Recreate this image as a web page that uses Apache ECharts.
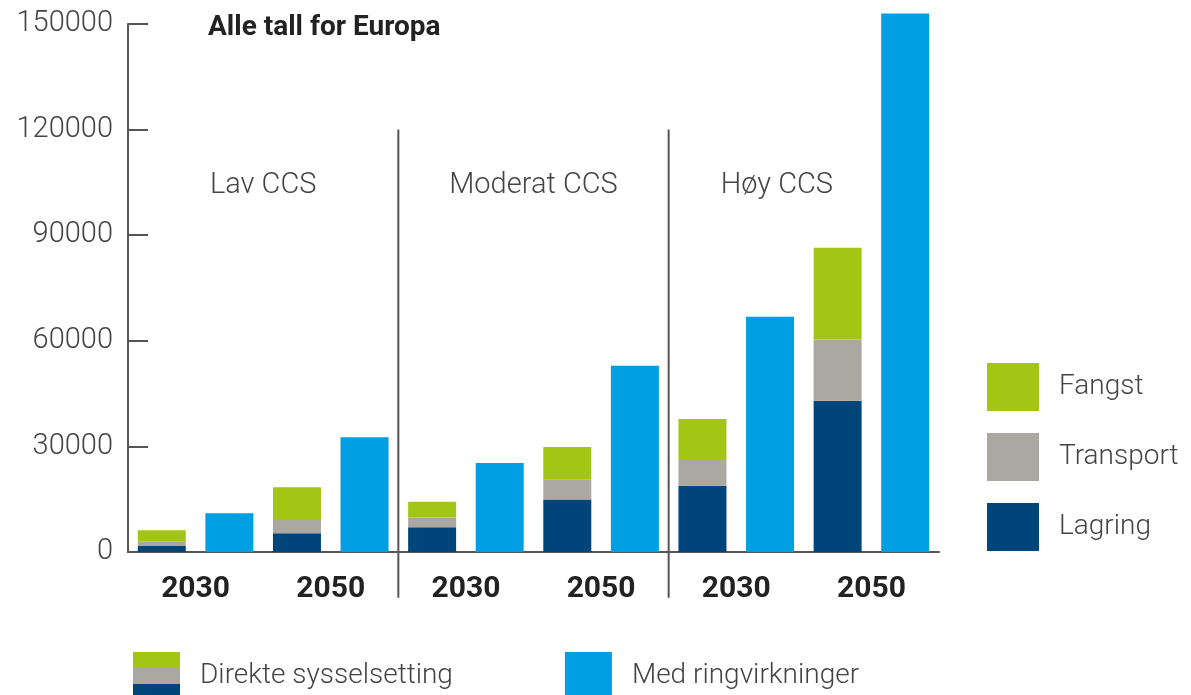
<!DOCTYPE html>
<html>
<head>
<meta charset="utf-8">
<title>Sysselsetting CCS Europa</title>
<script src="https://cdn.jsdelivr.net/npm/echarts@6/dist/echarts.min.js"></script>
<style>
html, body { margin: 0; padding: 0; background: #fff; }
#main { width: 1191px; height: 695px; }
</style>
</head>
<body>
<div id="main"></div>
<script>
// scenarier og år (to søyler per år: direkte + med ringvirkninger)
var scenarios = ['Lav CCS', 'Moderat CCS', 'Høy CCS'];
var years = ['2030', '2050'];

// direkte sysselsetting, en verdi per scenario/år
var lagring   = [1700, 5300, 7000, 14900, 18800, 43000];
var transport = [1200, 3800, 2800, 5800, 7600, 17400];
var fangst    = [3300, 9300, 4500, 9100, 11400, 26000];
// med ringvirkninger
var ringvirkninger = [11000, 32600, 25300, 52900, 66800, 153000];

var yTicks = [0, 30000, 60000, 90000, 120000, 150000];

var colLagring = '#00457a';
var colTransport = '#aba8a1';
var colFangst = '#a3c615';
var colRing = '#009fe3';
var textCol = '#444';
var font = 'Roboto';

// 12 kategorier: direkte / ring for hvert år i hvert scenario
var categories = [];
var yearLabels = [];
scenarios.forEach(function (s) {
    years.forEach(function (y) {
        categories.push(s + ' ' + y + ' direkte');
        categories.push(s + ' ' + y + ' ringvirkninger');
        yearLabels.push(y);
    });
});

function onDirect(arr) {
    var out = [];
    arr.forEach(function (v) { out.push(v, '-'); });
    return out;
}
function onRing(arr) {
    var out = [];
    arr.forEach(function (v) { out.push('-', v); });
    return out;
}

var myChart = echarts.init(document.getElementById('main'));

var barBase = {
    type: 'bar',
    stack: 'total',
    barWidth: 48,
    clip: false
};

var legendText = { fontFamily: font, fontSize: 28, fontWeight: 300, color: textCol, padding: [4, 0, 0, 15] };

var option = {
    animation: false,
    title: {
        text: 'Alle tall for Europa',
        left: 208,
        top: 14,
        padding: 0,
        textStyle: { fontFamily: font, fontSize: 28, fontWeight: 'bold', color: '#222' }
    },
    grid: {
        left: 128,
        top: 24,
        width: 811,
        bottom: 143,
        containLabel: false
    },
    legend: [
        {
            data: ['Fangst', 'Transport', 'Lagring'],
            orient: 'vertical',
            left: 987,
            top: 363,
            padding: 0,
            itemWidth: 52,
            itemHeight: 48,
            itemGap: 22,
            icon: 'rect',
            selectedMode: false,
            textStyle: legendText
        },
        {
            data: ['Direkte sysselsetting', 'Med ringvirkninger'],
            orient: 'horizontal',
            left: 133,
            top: 652,
            padding: 0,
            itemWidth: 47,
            itemHeight: 48,
            itemGap: 112,
            icon: 'rect',
            selectedMode: false,
            textStyle: legendText
        }
    ],
    xAxis: [
        {
            type: 'category',
            data: categories,
            axisLine: { lineStyle: { color: '#555', width: 2 } },
            axisTick: { interval: 0, inside: true, length: 12, lineStyle: { color: '#555', width: 2 } },
            axisLabel: { show: false }
        },
        {
            type: 'category',
            data: yearLabels,
            position: 'bottom',
            axisLine: { show: false },
            axisTick: { show: false },
            axisLabel: {
                margin: 22,
                fontFamily: font,
                fontSize: 30,
                fontWeight: 'bold',
                color: '#222'
            }
        }
    ],
    yAxis: {
        type: 'value',
        min: yTicks[0],
        max: yTicks[yTicks.length - 1],
        interval: yTicks[1] - yTicks[0],
        axisLine: { show: true, lineStyle: { color: '#555', width: 2 } },
        axisTick: { show: true, inside: true, length: 20, lineStyle: { color: '#555', width: 2 } },
        splitLine: { show: false },
        axisLabel: {
            margin: 15,
            fontFamily: font,
            fontSize: 29,
            fontWeight: 300,
            color: textCol,
            formatter: function (v) { return String(v); }
        }
    },
    series: [
        Object.assign({}, barBase, { name: 'Lagring', data: onDirect(lagring), itemStyle: { color: colLagring } }),
        Object.assign({}, barBase, { name: 'Transport', data: onDirect(transport), itemStyle: { color: colTransport } }),
        Object.assign({}, barBase, { name: 'Fangst', data: onDirect(fangst), itemStyle: { color: colFangst } }),
        Object.assign({}, barBase, { name: 'Med ringvirkninger', data: onRing(ringvirkninger), itemStyle: { color: colRing } }),
        // bare for legenden: tre farger i ett ikon
        Object.assign({}, barBase, {
            name: 'Direkte sysselsetting',
            data: [],
            itemStyle: {
                color: new echarts.graphic.LinearGradient(0, 0, 0, 1, [
                    { offset: 0, color: colFangst },
                    { offset: 0.333, color: colFangst },
                    { offset: 0.333, color: colTransport },
                    { offset: 0.667, color: colTransport },
                    { offset: 0.667, color: colLagring },
                    { offset: 1, color: colLagring }
                ])
            }
        })
    ]
};

myChart.setOption(option);

// skillelinjer mellom scenariene og scenarionavn, plassert via aksene
function px(cat, val) {
    return myChart.convertToPixel({ xAxisIndex: 0, yAxisIndex: 0 }, [cat, val]);
}
var graphics = [];
[4, 8].forEach(function (b) {
    var top = px(b - 1, 120000), topR = px(b, 120000);
    var x = (top[0] + topR[0]) / 2;
    var bottom = px(b, -13000);
    graphics.push({
        type: 'line',
        shape: { x1: x, y1: top[1], x2: x, y2: bottom[1] },
        style: { stroke: '#555', lineWidth: 2 }
    });
});
var labelShift = [0, 0, -27];
scenarios.forEach(function (s, i) {
    var a = px(i * 4 + 1, 104000), b = px(i * 4 + 2, 104000);
    graphics.push({
        type: 'text',
        x: (a[0] + b[0]) / 2 + labelShift[i],
        y: a[1],
        style: {
            text: s,
            fontFamily: font,
            fontSize: 29,
            fontWeight: 300,
            fill: textCol,
            align: 'center',
            verticalAlign: 'middle'
        }
    });
});
myChart.setOption({ graphic: graphics });
</script>
</body>
</html>
